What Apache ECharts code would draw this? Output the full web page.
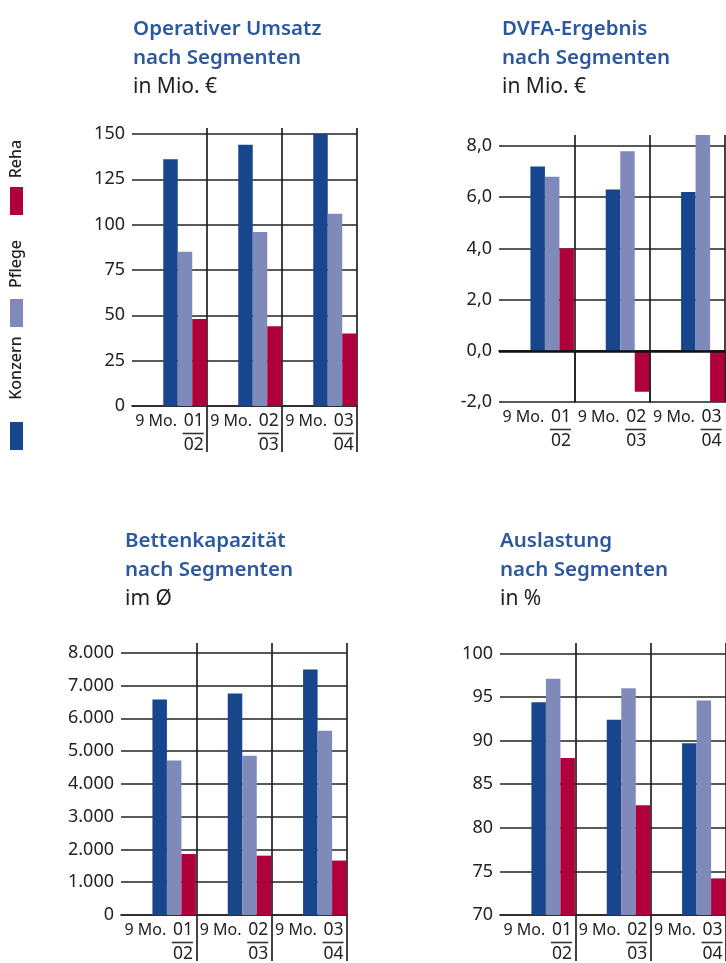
<!DOCTYPE html>
<html><head><meta charset="utf-8">
<script src="https://cdn.jsdelivr.net/npm/echarts@6/dist/echarts.min.js"></script>
<style>html,body{margin:0;padding:0;background:#fff}#c{width:726px;height:963px}</style>
</head><body><div id="c"></div>
<script>
// ---- data ----
const segments = ['Konzern', 'Pflege', 'Reha'];
const categories = ['9 Mo. 01/02', '9 Mo. 02/03', '9 Mo. 03/04'];

const umsatzKonzern = [136, 144, 150];
const umsatzPflege  = [85, 96, 106];
const umsatzReha    = [48, 44, 40];

const dvfaKonzern = [7.2, 6.3, 6.2];
const dvfaPflege  = [6.8, 7.8, 8.6];
const dvfaReha    = [4.0, -1.6, -2.2];

const bettenKonzern = [6570, 6760, 7490];
const bettenPflege  = [4710, 4860, 5620];
const bettenReha    = [1860, 1810, 1660];

const auslastungKonzern = [94.4, 92.4, 89.7];
const auslastungPflege  = [97.1, 96.0, 94.6];
const auslastungReha    = [88.0, 82.6, 74.2];

const titles = ['Operativer Umsatz\nnach Segmenten', 'DVFA-Ergebnis\nnach Segmenten', 'Bettenkapazität\nnach Segmenten', 'Auslastung\nnach Segmenten'];
const units = ['in Mio. €', 'in Mio. €', 'im Ø', 'in %'];

// ---- styles / layout ----
const segColors = ['#17468d', '#7f8aba', '#b0003b'];
const lineCol = '#222';
const FONT = "'Noto Sans', 'Open Sans', sans-serif";

const fmtPlain = v => String(v);
const fmtComma = v => v.toFixed(1).replace('.', ',');
const fmtThousand = v => String(Math.round(v)).replace(/\B(?=(\d{3})+(?!\d))/g, '.');

const panels = [
  {values: [umsatzKonzern, umsatzPflege, umsatzReha], titleLeft: 133, titleTop: 15,
   grid: {left: 132, top: 128, width: 225, height: 278}, min: 0, max: 153.3, interval: 25, fmt: fmtPlain, tickLen: 46},
  {values: [dvfaKonzern, dvfaPflege, dvfaReha], titleLeft: 502, titleTop: 15,
   grid: {left: 499, top: 135, width: 226, height: 267}, min: -2, max: 8.43, interval: 2, fmt: fmtComma, tickLen: 52, zero: true},
  {values: [bettenKonzern, bettenPflege, bettenReha], titleLeft: 125, titleTop: 527,
   grid: {left: 121, top: 643, width: 226, height: 279}, min: 0, max: 8297, interval: 1000, fmt: fmtThousand, tickLen: 46},
  {values: [auslastungKonzern, auslastungPflege, auslastungReha], titleLeft: 500, titleTop: 527,
   grid: {left: 500, top: 643, width: 228, height: 278}, min: 70, max: 101.2, interval: 5, fmt: fmtPlain, tickLen: 46}
];

const skipFirst = (i) => i !== 0;

const option = {
  animation: false,
  backgroundColor: '#fff',
  title: [], grid: [], xAxis: [], yAxis: [], series: [],
  graphic: []
};

panels.forEach((p, k) => {
  option.title.push({
    text: titles[k], subtext: units[k], left: p.titleLeft, top: p.titleTop,
    padding: 0, itemGap: 0,
    textStyle: {fontFamily: FONT, fontSize: 20.5, fontWeight: 600, color: '#2b58a0', lineHeight: 29},
    subtextStyle: {fontFamily: FONT, fontSize: 21, color: '#222', lineHeight: 29}
  });
  option.grid.push(Object.assign({containLabel: false}, p.grid));
  option.xAxis.push({
    type: 'category', gridIndex: k, data: categories, boundaryGap: true,
    axisLine: {show: true, lineStyle: {color: lineCol, width: 1.7}},
    axisTick: {show: true, interval: skipFirst, length: p.tickLen, lineStyle: {color: lineCol, width: 1.7}},
    splitLine: {show: true, interval: skipFirst, lineStyle: {color: lineCol, width: 1.7}},
    axisLabel: {
      interval: 0, margin: 6,
      formatter: (val) => {
        const parts = val.split(' ');
        const frac = parts[2].split('/');
        return '{a|' + parts[0] + ' ' + parts[1] + '}  {b|' + frac[0] + '}\n{r| }\n{c|' + frac[1] + '}';
      },
      rich: {
        a: {fontFamily: FONT, fontSize: 16, color: '#222', lineHeight: 19},
        b: {fontFamily: FONT, fontSize: 17.5, color: '#222', lineHeight: 19},
        r: {width: 21, height: 1.6, lineHeight: 5, fontSize: 4, backgroundColor: '#333', align: 'right'},
        c: {fontFamily: FONT, fontSize: 17.5, color: '#222', lineHeight: 18, align: 'right'}
      }
    }
  });
  option.yAxis.push({
    type: 'value', gridIndex: k, min: p.min, max: p.max, interval: p.interval,
    axisLine: {show: false}, axisTick: {show: false},
    splitLine: {show: true, showMaxLine: false, lineStyle: {color: lineCol, width: 1.7}},
    axisLabel: {showMaxLabel: false, margin: 7, fontFamily: FONT, fontSize: 18, color: '#222', formatter: p.fmt}
  });
  // placeholder slot so that the bar group sits flush right in each period
  option.series.push({
    type: 'bar', xAxisIndex: k, yAxisIndex: k, name: '_', data: categories.map(() => '-'),
    barWidth: 31, barGap: 0, silent: true
  });
  p.values.forEach((vals, s) => {
    const ser = {
      type: 'bar', xAxisIndex: k, yAxisIndex: k, name: segments[s], data: vals,
      barWidth: 14.5, barGap: 0, itemStyle: {color: segColors[s]}
    };
    if (p.zero && s === 2) {
      ser.markLine = {silent: true, symbol: ['none', 'none'], label: {show: false},
        lineStyle: {color: '#111', width: 2.6, type: 'solid'}, data: [{yAxis: 0}]};
    }
    option.series.push(ser);
  });
});

// rotated legend on the left
const legendText = [{y: 368}, {y: 264}, {y: 159}];
const legendBox = [{y: 422}, {y: 299}, {y: 187}];
segments.forEach((name, s) => {
  option.graphic.push({
    type: 'text', x: 16, y: legendText[s].y, rotation: Math.PI / 2,
    style: {text: name, fontFamily: FONT, fontSize: 16, fontWeight: 500, fill: '#222', align: 'center', verticalAlign: 'middle'}
  });
  option.graphic.push({
    type: 'rect', shape: {x: 10, y: legendBox[s].y, width: 13, height: 28},
    style: {fill: segColors[s]}
  });
});

const chart = echarts.init(document.getElementById('c'), null, {renderer: 'canvas'});
chart.setOption(option);
</script>
</body></html>
